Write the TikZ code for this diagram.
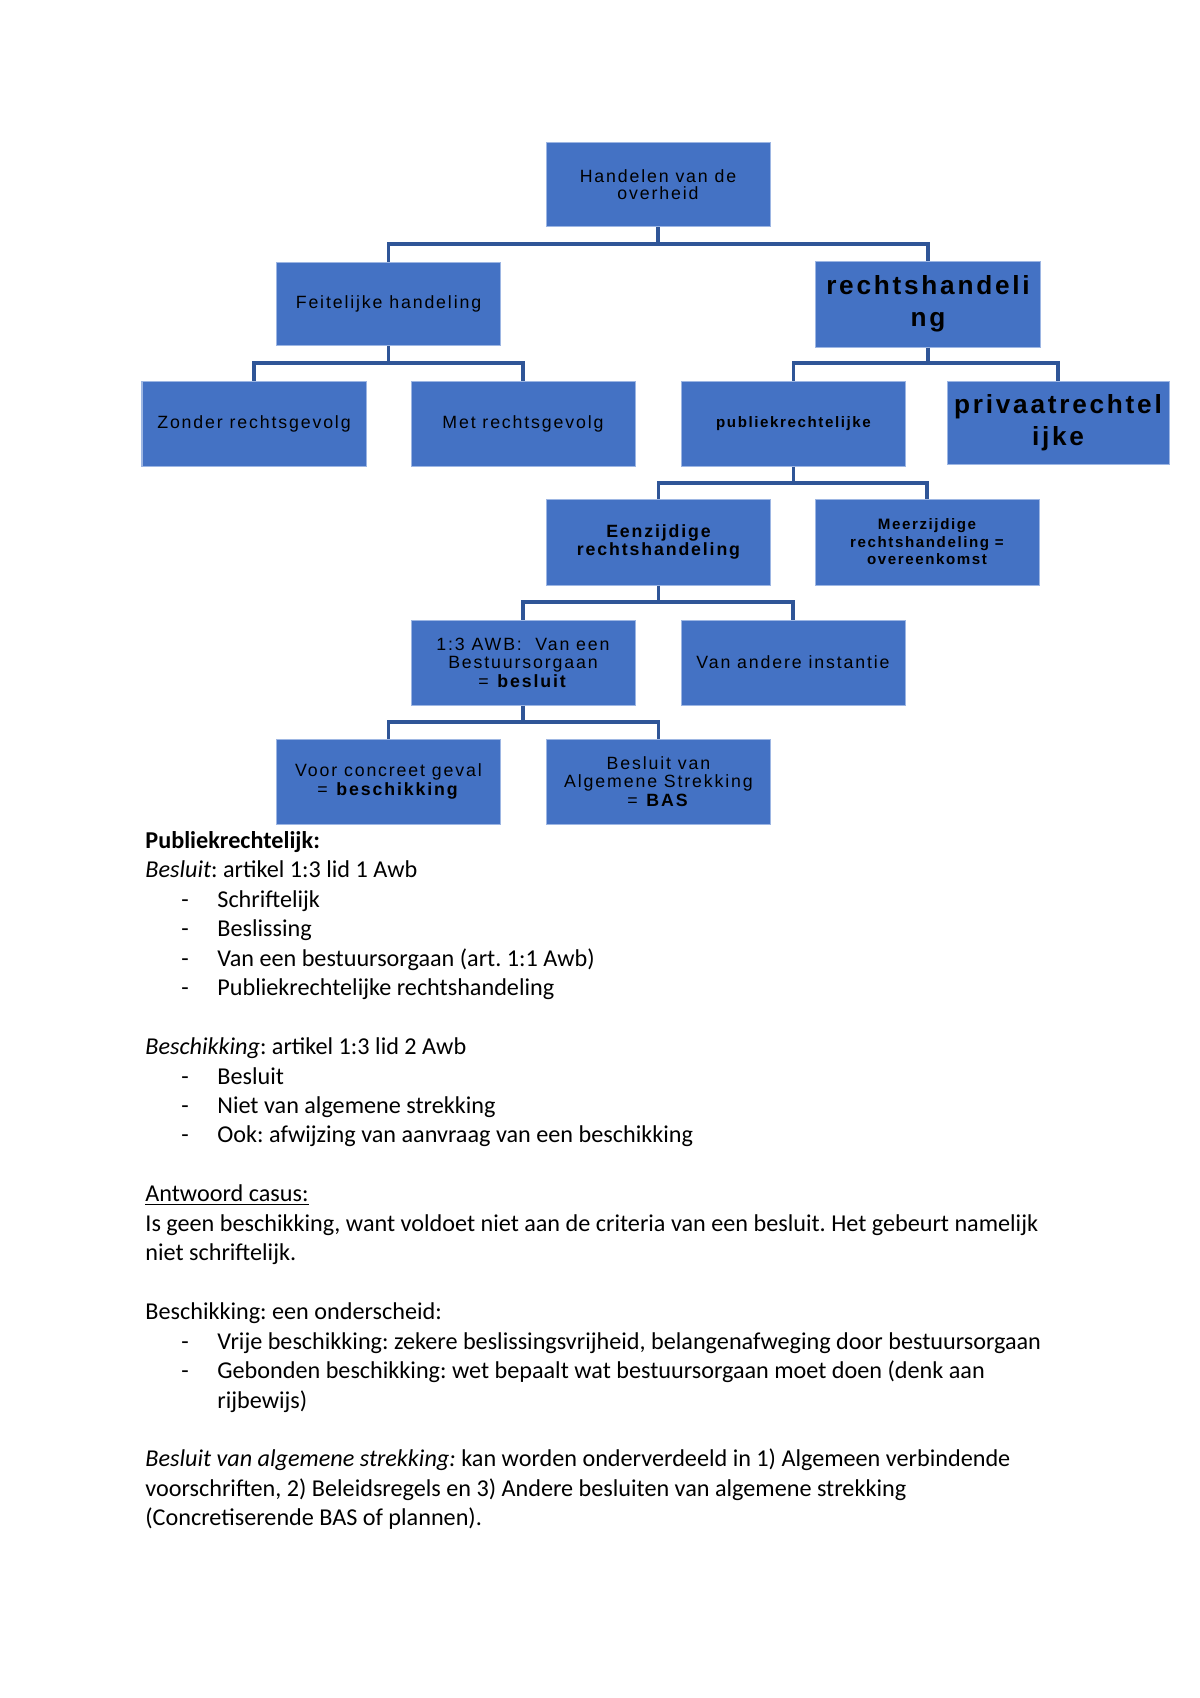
\documentclass[tikz,border=0pt]{standalone}
\usepackage{fontspec}
\setmainfont{Carlito}
\newfontfamily\boxfont[LetterSpace=10.5]{Liberation Sans}
\definecolor{boxfill}{HTML}{4472C4}
\definecolor{boxedge}{HTML}{9DB6E3}
\definecolor{connblue}{HTML}{2F5597}
\def\pxu{0.49607pt}
\begin{document}
\begin{tikzpicture}[x=0.49607pt,y=-0.49607pt,
  box/.style={draw=boxedge, line width=0.5pt, fill=boxfill, text=black,
    minimum width={224*\pxu}, minimum height={84*\pxu}, inner sep=0pt,
    align=center, font=\boxfont\fontsize{8.8}{9.2}\selectfont},
  bigbold/.style={font=\boxfont\bfseries\fontsize{13}{15.9}\selectfont},
  smallbold/.style={font=\boxfont\bfseries\fontsize{7.5}{8.7}\selectfont},
  midbold/.style={font=\boxfont\bfseries\fontsize{8.8}{8.8}\selectfont},
  conn/.style={draw=connblue, line width=1.7pt},
  body/.style={anchor=base west, inner sep=0pt, font=\frenchspacing\fontsize{12}{14}\selectfont},
]
\useasboundingbox (0,0) rectangle (1200,1698);

% boxes
\node[box, font=\boxfont\fontsize{8.8}{8.4}\selectfont] (root) at (658,184.5) {Handelen van de\\overheid};
\node[box, minimum height={83*\pxu}] (feit) at (388.5,304) {Feitelijke handeling};
\node[box, bigbold, minimum width={225*\pxu}, minimum height={86*\pxu}] (recht) at (928,304) {rechtshandeli\\ng};
\node[box, minimum height={85*\pxu}] (zonder) at (254,423.5) {Zonder rechtsgevolg};
\node[box, minimum height={85*\pxu}] (met) at (523,423.5) {Met rechtsgevolg};
\node[box, smallbold, minimum height={85*\pxu}] (publiek) at (793.5,423.5) {publiekrechtelijke};
\node[box, bigbold, minimum width={222*\pxu}, minimum height={83*\pxu}] (privaat) at (1058,422.5) {privaatrechtel\\ijke};
\node[box, midbold, minimum height={86*\pxu}] (een) at (658.5,542) {Eenzijdige\\rechtshandeling};
\node[box, smallbold, minimum height={86*\pxu}] (meer) at (927,542) {Meerzijdige\\rechtshandeling =\\overeenkomst};
\node[box, minimum height={85*\pxu}] (awb) at (523,662.5) {1:3 AWB:\ \ Van een\\Bestuursorgaan\\= \textbf{besluit}};
\node[box, minimum height={85*\pxu}] (andere) at (793,662.5) {Van andere instantie};
\node[box, minimum height={85*\pxu}] (voor) at (388.5,781.5) {Voor concreet geval\\= \textbf{beschikking}};
\node[box, minimum height={85*\pxu}] (bas) at (658.5,781.5) {Besluit van\\Algemene Strekking\\= \textbf{BAS}};

% bars
\coordinate (b1) at (0,244);
\coordinate (b2) at (0,363);
\coordinate (b3) at (0,483);
\coordinate (b4) at (0,602);
\coordinate (b5) at (0,722);

\draw[conn] (root.south) -- (root.south |- b1);
\draw[conn] (feit.north) -- (feit.north |- b1) -- (recht.north |- b1) -- (recht.north);
\draw[conn] (feit.south) -- (feit.south |- b2);
\draw[conn] (zonder.north) -- (zonder.north |- b2) -- (met.north |- b2) -- (met.north);
\draw[conn] (recht.south) -- (recht.south |- b2);
\draw[conn] (publiek.north) -- (publiek.north |- b2) -- (privaat.north |- b2) -- (privaat.north);
\draw[conn] (publiek.south) -- (publiek.south |- b3);
\draw[conn] (een.north) -- (een.north |- b3) -- (meer.north |- b3) -- (meer.north);
\draw[conn] (een.south) -- (een.south |- b4);
\draw[conn] (awb.north) -- (awb.north |- b4) -- (andere.north |- b4) -- (andere.north);
\draw[conn] (awb.south) -- (awb.south |- b5);
\draw[conn] (voor.north) -- (voor.north |- b5) -- (bas.north |- b5) -- (bas.north);

% body text
\node[body] (t0) at (145,848.3) {\textbf{Publiekrechtelijk:}};
\node[body] (t1) at (145,877.8) {\textit{Besluit}: artikel 1:3 lid 1 Awb};
\node[body] (d2) at (181,907.2) {-};
\node[body] (t2) at (217,907.2) {Schriftelijk};
\node[body] (d3) at (181,936.7) {-};
\node[body] (t3) at (217,936.7) {Beslissing};
\node[body] (d4) at (181,966.1) {-};
\node[body] (t4) at (217,966.1) {Van een bestuursorgaan (art. 1:1 Awb)};
\node[body] (d5) at (181,995.6) {-};
\node[body] (t5) at (217,995.6) {Publiekrechtelijke rechtshandeling};

\node[body] (t7) at (145,1054.5) {\textit{Beschikking}: artikel 1:3 lid 2 Awb};
\node[body] (d8) at (181,1084) {-};
\node[body] (t8) at (217,1084) {Besluit};
\node[body] (d9) at (181,1113.4) {-};
\node[body] (t9) at (217,1113.4) {Niet van algemene strekking};
\node[body] (d10) at (181,1142.9) {-};
\node[body] (t10) at (217,1142.9) {Ook: afwijzing van aanvraag van een beschikking};

\node[body] (t12) at (145,1201.8) {\underline{Antwoord casus:}};
\node[body] (t13) at (145,1231.2) {Is geen beschikking, want voldoet niet aan de criteria van een besluit. Het gebeurt namelijk};
\node[body] (t14) at (145,1260.7) {niet schriftelijk.};

\node[body] (t16) at (145,1319.6) {Beschikking: een onderscheid:};
\node[body] (d17) at (181,1349) {-};
\node[body] (t17) at (217,1349) {Vrije beschikking: zekere beslissingsvrijheid, belangenafweging door bestuursorgaan};
\node[body] (d18) at (181,1378.5) {-};
\node[body] (t18) at (217,1378.5) {Gebonden beschikking: wet bepaalt wat bestuursorgaan moet doen (denk aan};
\node[body] (t19) at (217,1408) {rijbewijs)};

\node[body] (t21) at (145,1466.9) {\textit{Besluit van algemene strekking:} kan worden onderverdeeld in 1) Algemeen verbindende};
\node[body] (t22) at (145,1496.3) {voorschriften, 2) Beleidsregels en 3) Andere besluiten van algemene strekking};
\node[body] (t23) at (145,1525.8) {(Concretiserende BAS of plannen).};
\end{tikzpicture}
\end{document}
